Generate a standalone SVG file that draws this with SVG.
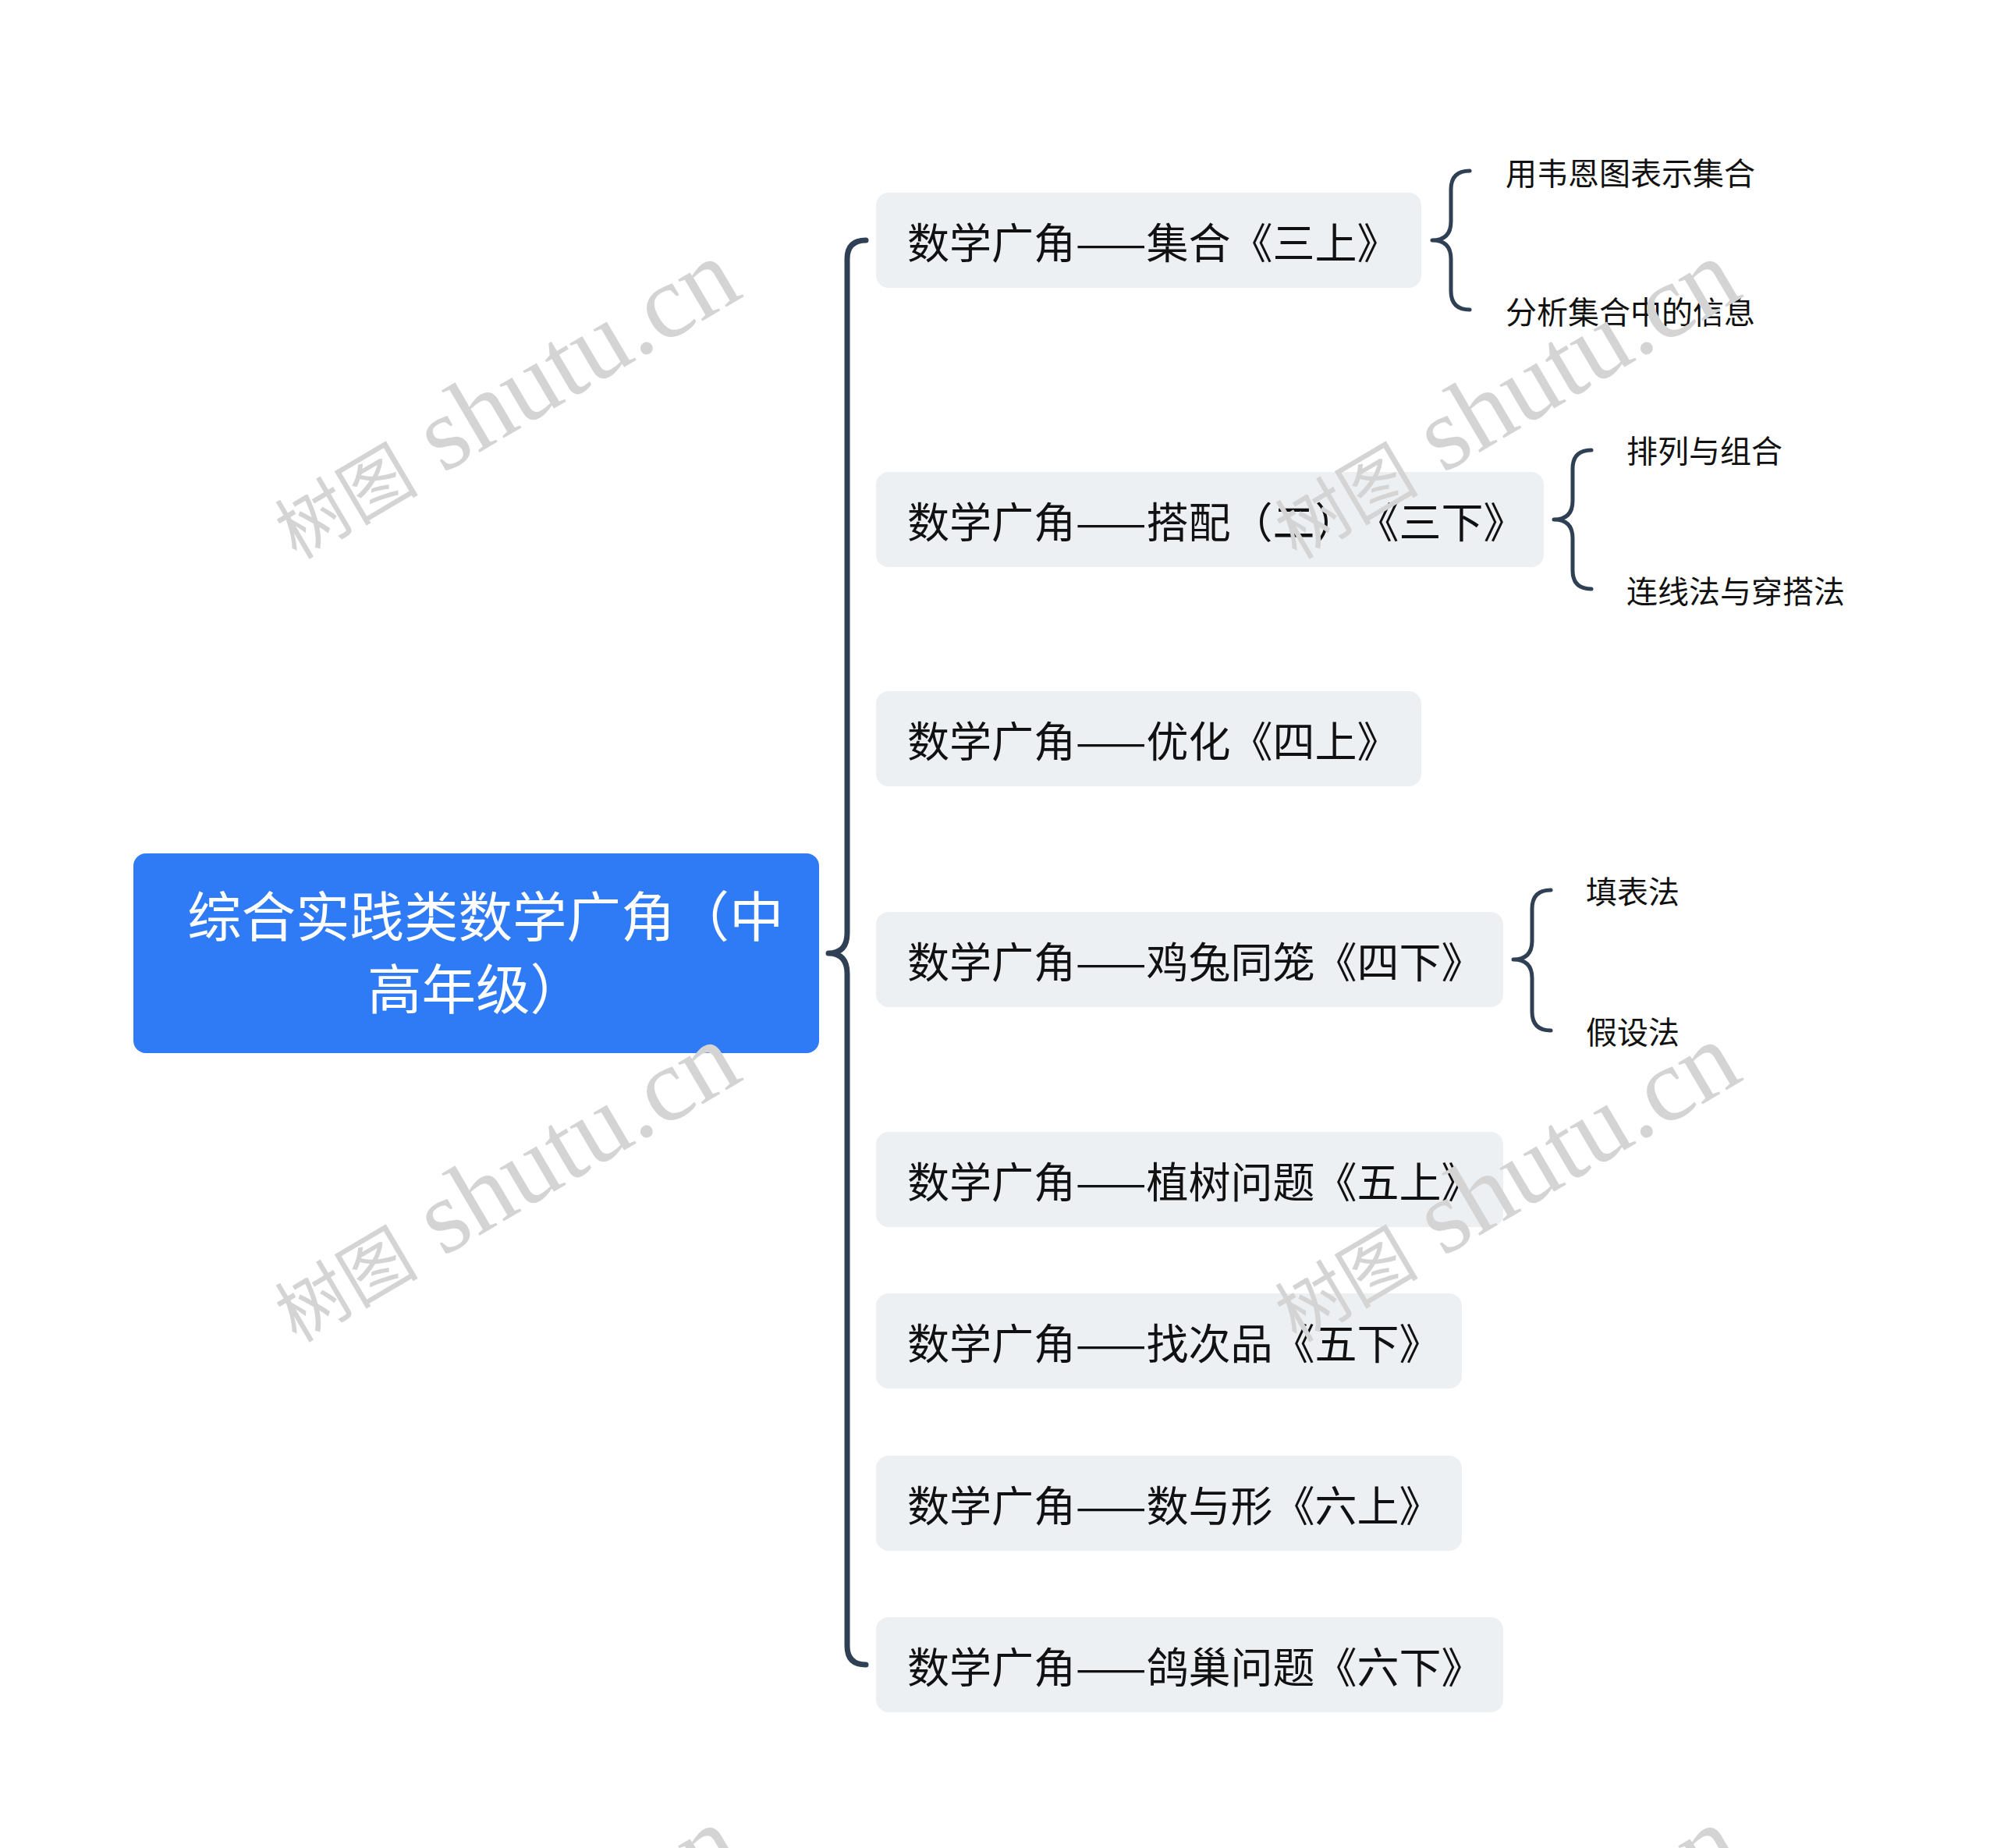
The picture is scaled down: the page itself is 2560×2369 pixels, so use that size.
<svg xmlns="http://www.w3.org/2000/svg" width="2560" height="2369" viewBox="0 0 2560 2369">
<style>
.bg{fill:#ffffff}
.root rect{fill:#2f7bf6}
.root text{fill:#ffffff;font-family:"Noto Sans CJK SC","Noto Sans",sans-serif;font-size:69.5px}
.node rect{fill:#edf0f3}
.node text{fill:#111111;font-family:"Noto Sans CJK SC","Noto Sans",sans-serif;font-size:54px;dominant-baseline:central}
.leaf text{fill:#111111;font-family:"Noto Sans CJK SC","Noto Sans",sans-serif;font-size:40px;dominant-baseline:central}
.conn path{fill:none;stroke:#2f3f54;stroke-linecap:round;stroke-linejoin:round}
.main{stroke-width:7}
.sub{stroke-width:5}
.wm text{fill:#d4d4d4;font-family:"Liberation Serif","Noto Sans CJK SC",serif;font-size:134px}
.wm tspan{font-size:92px}
.nt{text-spacing-trim:space-all}
</style>
<rect class="bg" x="0" y="0" width="2560" height="2369"/>

<g id="connectors" class="conn">
<path class="main" d="M1110 308 Q1086 308 1086 332 L1086 1196 Q1086 1222 1062 1222 Q1086 1222 1086 1248 L1086 2110 Q1086 2134 1110 2134"/>
<path class="sub" d="M1884 219 Q1860 219 1860 243 L1860 284 Q1860 308 1836 308 Q1860 308 1860 332 L1860 373 Q1860 397 1884 397"/>
<path class="sub" d="M2040 577 Q2016 577 2016 601 L2016 642 Q2016 666 1992 666 Q2016 666 2016 690 L2016 731 Q2016 755 2040 755"/>
<path class="sub" d="M1988 1141 Q1964 1141 1964 1165 L1964 1206 Q1964 1230 1940 1230 Q1964 1230 1964 1254 L1964 1297 Q1964 1321 1988 1321"/>
</g>

<g id="root" class="root">
<rect x="171" y="1094" width="879" height="256" rx="16"/>
<text x="240" y="1201">综合实践类数学广角（中</text>
<text x="471" y="1294">高年级）</text>
</g>

<g id="n1" class="node"><rect x="1123" y="247" width="699" height="122" rx="16"/><text x="1163" y="308">数学广角——集合《三上》</text></g>
<g id="n2" class="node"><rect x="1123" y="605" width="856" height="122" rx="16"/><text class="nt" x="1163" y="666">数学广角——搭配（二）《三下》</text></g>
<g id="n3" class="node"><rect x="1123" y="886" width="699" height="122" rx="16"/><text x="1163" y="947">数学广角——优化《四上》</text></g>
<g id="n4" class="node"><rect x="1123" y="1169" width="804" height="122" rx="16"/><text x="1163" y="1230">数学广角——鸡兔同笼《四下》</text></g>
<g id="n5" class="node"><rect x="1123" y="1451" width="804" height="122" rx="16"/><text x="1163" y="1512">数学广角——植树问题《五上》</text></g>
<g id="n6" class="node"><rect x="1123" y="1658" width="751" height="122" rx="16"/><text x="1163" y="1719">数学广角——找次品《五下》</text></g>
<g id="n7" class="node"><rect x="1123" y="1866" width="751" height="122" rx="16"/><text x="1163" y="1927">数学广角——数与形《六上》</text></g>
<g id="n8" class="node"><rect x="1123" y="2073" width="804" height="122" rx="16"/><text x="1163" y="2134">数学广角——鸽巢问题《六下》</text></g>

<g id="l1a" class="leaf"><text x="1930" y="220">用韦恩图表示集合</text></g>
<g id="l1b" class="leaf"><text x="1930" y="398">分析集合中的信息</text></g>
<g id="l2a" class="leaf"><text x="2085" y="576">排列与组合</text></g>
<g id="l2b" class="leaf"><text x="2085" y="756">连线法与穿搭法</text></g>
<g id="l4a" class="leaf"><text x="2033" y="1141">填表法</text></g>
<g id="l4b" class="leaf"><text x="2033" y="1321">假设法</text></g>

<g id="watermarks" class="wm">
<text transform="translate(380,718) rotate(-30.5)"><tspan>树图</tspan> shutu.cn</text>
<text transform="translate(1662,718) rotate(-30.5)"><tspan>树图</tspan> shutu.cn</text>
<text transform="translate(380,1722) rotate(-30.5)"><tspan>树图</tspan> shutu.cn</text>
<text transform="translate(1662,1722) rotate(-30.5)"><tspan>树图</tspan> shutu.cn</text>
<text transform="translate(380,2726) rotate(-30.5)"><tspan>树图</tspan> shutu.cn</text>
<text transform="translate(1662,2726) rotate(-30.5)"><tspan>树图</tspan> shutu.cn</text>
</g>
</svg>
